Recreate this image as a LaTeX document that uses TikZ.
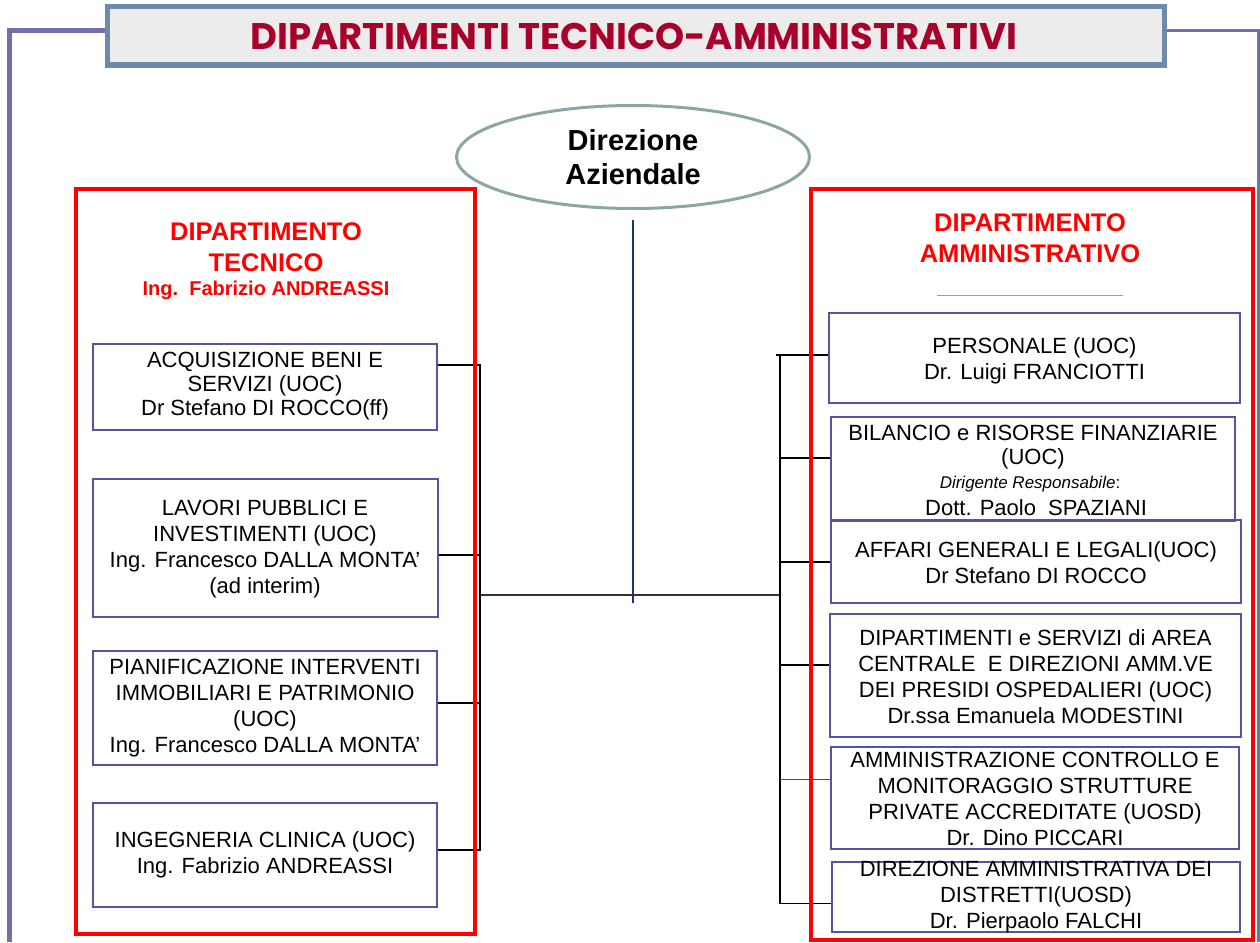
\documentclass[tikz,border=0pt]{standalone}
\usepackage{fontspec}
\setmainfont{Liberation Sans}
\newfontfamily\titlefont{Poppins}
\usetikzlibrary{shapes.geometric}
\definecolor{frameblue}{RGB}{112,112,172}
\definecolor{titleborder}{RGB}{110,138,170}
\definecolor{titlefill}{RGB}{236,236,236}
\definecolor{titlered}{RGB}{168,0,42}
\definecolor{ellgray}{RGB}{140,166,166}
\definecolor{navyline}{RGB}{30,50,110}
\definecolor{boxblue}{RGB}{84,84,162}
\definecolor{lightline}{RGB}{150,150,220}
\begin{document}
\begin{tikzpicture}[x=1pt,y=-1pt,
  unit/.style={draw=boxblue, line width=1.5pt, fill=white, inner sep=0pt},
  txt/.style={align=center, inner sep=0pt, font=\fontsize{22}{26}\selectfont},
  redframe/.style={draw=red, line width=4pt, inner sep=0pt},
  redhead/.style={align=center, inner sep=0pt, text=red, font=\bfseries\fontsize{25.5}{31}\selectfont},
  bus/.style={draw=black, line width=2pt},
  thinbus/.style={draw=black!70, line width=1pt},
]
\useasboundingbox (0,0) rectangle (1260,942);

% outer frame
\draw[frameblue, line width=5pt] (9,942) -- (9,30.5) -- (110,30.5);
\draw[frameblue, line width=3pt] (1160,30.5) -- (1258.5,30.5) -- (1258.5,942);

% title
\node[draw=titleborder, line width=5pt, fill=titlefill, minimum width=1057pt, minimum height=58pt, inner sep=0pt] (title) at (635.5,36) {};
\node[text=titlered, font=\titlefont\bfseries\fontsize{37}{40}\selectfont, inner sep=0pt] (titletext) at (634,36) {DIPARTIMENTI TECNICO-AMMINISTRATIVI};

% direzione
\node[ellipse, draw=ellgray, line width=3pt, fill=white, minimum width=353pt, minimum height=103pt, inner sep=0pt, align=center, font=\bfseries\fontsize{29}{34}\selectfont] (dir) at (633,157) {Direzione\\Aziendale};

% left boxes
\node[unit, minimum width=344pt, minimum height=86pt] (acq) at (265,387) {};
\node[txt, font=\fontsize{22}{24}\selectfont] at (265,386) {ACQUISIZIONE BENI E\\SERVIZI (UOC)\\Dr Stefano DI ROCCO(ff)};
\node[unit, minimum width=345pt, minimum height=138pt] (lav) at (265.5,548) {};
\node[txt] at (265,549.5) {LAVORI PUBBLICI E\\INVESTIMENTI (UOC)\\Ing. Francesco DALLA MONTA’\\(ad interim)};
\node[unit, minimum width=344pt, minimum height=114pt] (pia) at (265,708) {};
\node[txt] at (265,708) {PIANIFICAZIONE INTERVENTI\\IMMOBILIARI E PATRIMONIO\\(UOC)\\Ing. Francesco DALLA MONTA’};
\node[unit, minimum width=344pt, minimum height=104pt] (ing) at (265,855) {};
\node[txt] at (265,855) {INGEGNERIA CLINICA (UOC)\\Ing. Fabrizio ANDREASSI};

% right boxes
\node[unit, minimum width=411pt, minimum height=90pt] (per) at (1034.5,358) {};
\node[txt] at (1034.5,360.5) {PERSONALE (UOC)\\Dr. Luigi FRANCIOTTI};
\node[unit, minimum width=404pt, minimum height=104pt] (bil) at (1033,469) {};
\node[txt] at (1033,433) {BILANCIO e RISORSE FINANZIARIE};
\node[txt] at (1033,459) {(UOC)};
\node[txt, font=\fontsize{17}{20}\selectfont] at (1030,484) {\itshape Dirigente Responsabile\upshape:};
\node[txt, font=\fontsize{22}{26}\selectfont] at (1036,508) {Dott. Paolo\ \ SPAZIANI};
\node[unit, minimum width=410pt, minimum height=83pt, fill=none] (aff) at (1036,561.5) {};
\node[txt] at (1036,563) {AFFARI GENERALI E LEGALI(UOC)\\Dr Stefano DI ROCCO};
\node[unit, minimum width=411pt, minimum height=123pt] (dip) at (1035.5,675.5) {};
\node[txt] at (1035.5,676.5) {DIPARTIMENTI e SERVIZI di AREA\\CENTRALE\ \ E DIREZIONI AMM.VE\\DEI PRESIDI OSPEDALIERI (UOC)\\Dr.ssa Emanuela MODESTINI};
\node[unit, minimum width=408pt, minimum height=102pt] (amm) at (1035,798) {};
\node[txt] at (1035,799) {AMMINISTRAZIONE CONTROLLO E\\MONITORAGGIO STRUTTURE\\PRIVATE ACCREDITATE (UOSD)\\Dr. Dino PICCARI};
\node[unit, minimum width=408pt, minimum height=70pt] (dis) at (1036,897) {};
\node[txt] at (1036,897.5) {DIREZIONE AMMINISTRATIVA DEI\\DISTRETTI(UOSD)\\Dr. Pierpaolo FALCHI};

% connectors
\coordinate (vend) at (633,603);
\coordinate (LB) at (480,595);
\coordinate (RB) at (780,595);
\coordinate (l1) at (0,365);
\coordinate (l2) at (0,555);
\coordinate (l3) at (0,703);
\coordinate (l4) at (0,850);
\coordinate (r1) at (0,355);
\coordinate (r2) at (0,458);
\coordinate (r3) at (0,562);
\coordinate (r4) at (0,665);
\coordinate (r5) at (0,779);
\coordinate (r6) at (0,903.5);
\draw[navyline, line width=2pt] ([yshift=-10pt]dir.south) -- (vend);
\draw[black!80, line width=2pt] (LB) -- (RB);
\draw[bus] (acq.east |- l1) -| (LB);
\draw[bus] (lav.east |- l2) -| (LB);
\draw[bus] (pia.east |- l3) -| (LB);
\draw[bus] (ing.east |- l4) -| (LB);
\draw[bus] ([xshift=-4pt]RB |- r1) -- (per.west |- r1);
\draw[bus] (RB) -- (RB |- r1);
\draw[bus] (RB) |- (bil.west |- r2);
\draw[bus] (RB) |- (aff.west |- r3);
\draw[bus] (RB) |- (dip.west |- r4);
\draw[bus, line width=1.5pt] (RB) |- (dis.west |- r6);
\draw[thinbus] (RB |- r5) -- (amm.west |- r5);

% department frames
\node[redframe, minimum width=399pt, minimum height=745pt] (dtec) at (275.5,561.5) {};
\node[redframe, minimum width=442pt, minimum height=751pt] (damm) at (1032,564.5) {};
\node[redhead] (htec) at (266,247.5) {DIPARTIMENTO\\TECNICO};
\node[redhead, font=\bfseries\fontsize{20}{24}\selectfont] (htecdir) at (266,290) {Ing.\ \ Fabrizio ANDREASSI};
\node[redhead] (hamm) at (1030,238) {DIPARTIMENTO\\AMMINISTRATIVO};
\coordinate (ul1) at (937,295);
\coordinate (ul2) at (1123,295);
\draw[lightline, line width=1pt] (ul1) -- (ul2);
\end{tikzpicture}
\end{document}
